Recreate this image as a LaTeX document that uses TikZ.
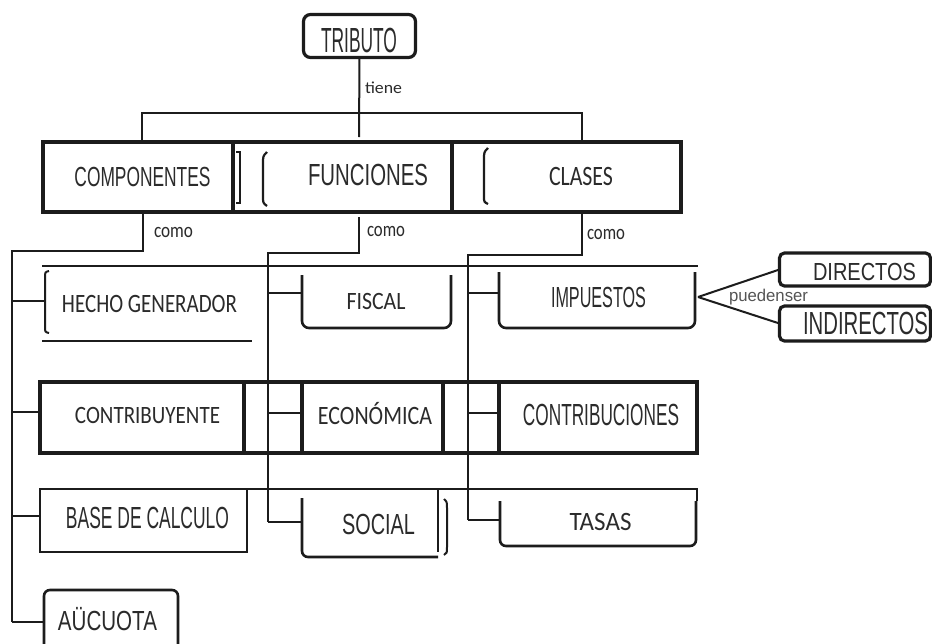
\documentclass[tikz,border=0pt]{standalone}
\usepackage{fontspec}
\usepackage{graphicx}
\newfontfamily\nar{Liberation Sans}
\newfontfamily\car{Carlito}
\newcommand\fitc[4]{\resizebox{#2pt}{#3pt}{#1\smash{#4}\vphantom{E}}}
\newcommand\fitx[4]{\resizebox{#2pt}{#3pt}{#1\smash{#4}\vphantom{x}}}
\definecolor{ink}{HTML}{1C1C1C}
\definecolor{txt}{HTML}{2B2B2B}
\definecolor{soft}{HTML}{555555}
\tikzset{
  heavy/.style={draw=ink, line width=3.2pt},
  medium/.style={draw=ink, line width=2.6pt},
  light/.style={draw=ink, line width=1.6pt},
  conn/.style={draw=ink, line width=2pt},
  shapebox/.style={inner sep=0pt, outer sep=0pt},
  lbl/.style={inner sep=0pt, outer sep=0pt, text=txt},
}
\begin{document}
\begin{tikzpicture}[x=1pt,y=-1pt]
\useasboundingbox (0,0) rectangle (932,643);
\fill[white] (0,0) rectangle (932,643);

% ---------- TRIBUTO ----------
\node[shapebox, heavy, rounded corners=7pt, minimum width=112pt, minimum height=43pt] (tribBox) at (359.5,36) {};
\node[lbl] (trib) at (359,40.5) {\fitc{\nar}{76}{24}{TRIBUTO}};
\node[lbl] (tiene) at (383.5,89) {\fitx{\car}{37}{8}{tiene}};
\coordinate (tEnd) at (359,137);
\draw[conn] (tribBox.south) -- (tEnd);

% ---------- main row ----------
\node[shapebox, heavy, minimum width=190pt, minimum height=70pt] (compBox) at (138,177) {};
\node[shapebox, heavy, minimum width=219pt, minimum height=70pt] (funcBox) at (342.5,177) {};
\node[shapebox, heavy, minimum width=229pt, minimum height=70pt] (claBox) at (566.5,177) {};
\node[lbl] (comp) at (142.5,176.5) {\fitc{\nar}{136}{19}{COMPONENTES}};
\node[lbl] (func) at (368,174.5) {\fitc{\nar}{120}{21}{FUNCIONES}};
\node[lbl] (clas) at (581,176) {\fitc{\car}{64}{18}{CLASES}};
% bracket marks
\draw[ink, line width=1.2pt] (236,152) -- (240,152) -- (240,203) -- (236,203);
\draw[ink, line width=2.2pt] (267,152) .. controls (263,156) .. (263,164) -- (263,196) .. controls (263,203) .. (267,206);
\draw[ink, line width=2.2pt] (488,148) .. controls (484,152) .. (484,160) -- (484,196) .. controls (484,202) .. (488,204);

% bar from tiene to the three boxes
\coordinate (barL) at (142,142);
\coordinate (barR) at (582,142);
\draw[conn] (barL) |- (582,113) -- (barR);

% ---------- como connectors ----------
\coordinate (c1a) at (143,212);
\coordinate (c1b) at (12,251);
\coordinate (c2a) at (359,217);
\coordinate (c2b) at (268,253);
\coordinate (c3a) at (582,213);
\coordinate (c3b) at (468,255);
\draw[conn] (c1a) |- (c1b) -- (12,622);
\draw[conn] (c2a) |- (c2b) -- (268,522);
\draw[conn] (c3a) |- (c3b) -- (468,520);
\node[lbl] (como1) at (173.5,232.5) {\fitx{\car}{39}{10}{como}};
\node[lbl] (como2) at (386,231) {\fitx{\car}{38}{10}{como}};
\node[lbl] (como3) at (606,234.5) {\fitx{\car}{38}{10}{como}};

% ---------- row 2 ----------
\draw[light] (42,266) -- (698,266);
% HECHO GENERADOR
\draw[ink, line width=2pt] (49,271) .. controls (45,272) .. (45,278) -- (45,327) .. controls (45,332) .. (49,333);
\node[lbl] (hecho) at (149.5,303.5) {\fitc{\car}{175}{17}{HECHO GENERADOR}};
\draw[light] (42,341) -- (252,341);
\coordinate (hechoL) at (45,301);
\draw[conn] (12,301) -- (hechoL);
% FISCAL
\draw[medium, rounded corners=7pt] (302,275) -- (302,328) -- (451,328) -- (451,275);
\node[lbl] (fisc) at (376,301) {\fitc{\car}{59}{16}{FISCAL}};
\coordinate (fiscL) at (302,293);
\draw[conn] (268,293) -- (fiscL);
% IMPUESTOS
\draw[medium, rounded corners=7pt] (499,272) -- (499,328) -- (695,328) -- (695,272);
\node[lbl] (imp) at (598.5,297) {\fitc{\nar}{95}{20}{IMPUESTOS}};
\coordinate (impL) at (499,293);
\coordinate (impR) at (698,297);
\draw[conn] (468,293) -- (impL);
% DIRECTOS / INDIRECTOS
\node[shapebox, heavy, rounded corners=5pt, minimum width=151pt, minimum height=33pt] (dirBox) at (855,269.5) {};
\node[shapebox, heavy, rounded corners=5pt, minimum width=151pt, minimum height=35pt] (indBox) at (855,323.5) {};
\node[lbl] (dir) at (864.5,271.5) {\fitc{\nar}{103}{17}{DIRECTOS}};
\node[lbl] (ind) at (865.5,323) {\fitc{\nar}{125}{22}{INDIRECTOS}};
\draw[conn] (impR) -- (dirBox.west);
\draw[conn] (impR) -- (indBox.west);
\node[inner sep=0pt, text=soft] (pueden) at (768.5,297) {\fitx{\nar}{79}{9}{puedenser}};

% ---------- row 3 ----------
\draw[heavy] (40,382) rectangle (697,453);
\coordinate (contbL) at (40,412);
\coordinate (ecoL) at (302,413);
\coordinate (contrL) at (499,413);
\draw[heavy] (244,382) -- (244,453);
\draw[heavy] (ecoL |- 0,382) -- (ecoL |- 0,453);
\draw[heavy] (443,382) -- (443,453);
\draw[heavy] (contrL |- 0,382) -- (contrL |- 0,453);
\node[lbl] (contb) at (147.5,415) {\fitc{\car}{145}{16}{CONTRIBUYENTE}};
\node[lbl] (eco) at (375,415.5) {\fitc{\car}{114}{17}{ECONÓMICA}};
\node[lbl] (contr) at (601,414.5) {\fitc{\nar}{156}{21}{CONTRIBUCIONES}};
\draw[conn] (12,412) -- (contbL);
\draw[conn] (268,413) -- (ecoL);
\draw[conn] (468,413) -- (contrL);

% ---------- row 4 ----------
\draw[light] (40,489) -- (697,489) -- (697,501);
\node[shapebox, light, minimum width=207pt, minimum height=63pt] (baseBox) at (143.5,520.5) {};
\node[lbl] (base) at (147.5,517.5) {\fitc{\nar}{163}{21}{BASE DE CALCULO}};
\draw[conn] (12,516) -- (baseBox.west |- 0,516);
% SOCIAL
\draw[medium, rounded corners=6pt] (302,498) -- (302,557) -- (438,557);
\draw[light] (438,489) -- (438,552);
\draw[ink, line width=2pt] (444,499) .. controls (447,502) .. (447,508) -- (447,547) .. controls (447,553) .. (444,555);
\node[lbl] (soc) at (378.5,524) {\fitc{\nar}{73}{20}{SOCIAL}};
\coordinate (socL) at (302,522);
\draw[conn] (268,522) -- (socL);
% TASAS
\draw[medium, rounded corners=6pt] (500,501) -- (500,546) -- (696,546) -- (696,501);
\node[lbl] (tas) at (600.5,521.5) {\fitc{\car}{62}{17}{TASAS}};
\coordinate (tasL) at (500,520);
\draw[conn] (468,520) -- (tasL);

% ---------- AÜCUOTA ----------
\draw[medium, rounded corners=6pt] (44,645) -- (44,590) -- (178,590) -- (178,645);
\node[lbl] (alic) at (107.5,620.5) {\fitc{\nar}{99}{19}{AÜCUOTA}};
\coordinate (alicL) at (44,622);
\draw[conn] (12,622) -- (alicL);
\end{tikzpicture}
\end{document}
